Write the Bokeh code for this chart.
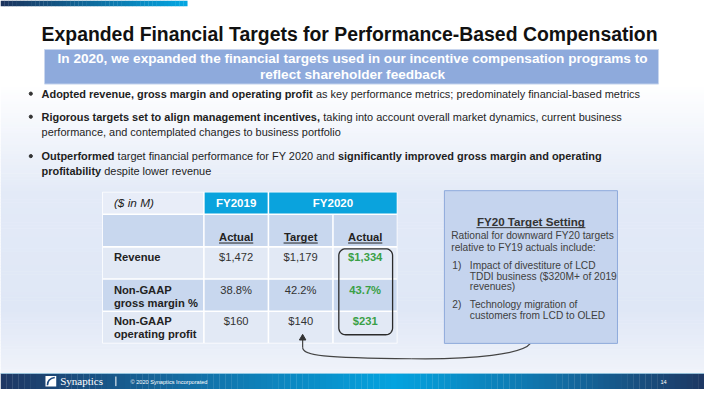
import numpy as np
from bokeh.plotting import figure
from bokeh.models import Range1d
from bokeh.core.properties import value
from bokeh.embed import file_html
from bokeh.resources import INLINE

# ---------------- content / data ----------------
title = "Expanded Financial Targets for Performance-Based Compensation"
banner_lines = ["In 2020, we expanded the financial targets used in our incentive compensation programs to",
                "reflect shareholder feedback"]

# bullet lines: list of segments (text, bold)
bullet_lines = [
    [("Adopted revenue, gross margin and operating profit", True),
     ("as key performance metrics; predominately financial-based metrics", False)],
    [("Rigorous targets set to align management incentives,", True),
     ("taking into account overall market dynamics, current business", False)],
    [("performance, and contemplated changes to business portfolio", False)],
    [("Outperformed", True), ("target financial performance for FY 2020 and", False),
     ("significantly improved gross margin and operating", True)],
    [("profitability", True), ("despite lower revenue", False)],
]
bullet_line_y = [97, 121, 137, 162, 178]
bullet_marks = [True, True, False, True, False]

unit_label = "($ in M)"
year_headers = ["FY2019", "FY2020"]
sub_headers = ["Actual", "Target", "Actual"]
row_labels = [["Revenue"], ["Non-GAAP", "gross margin %"], ["Non-GAAP", "operating profit"]]
fy2019_actual = ["$1,472", "38.8%", "$160"]
fy2020_target = ["$1,179", "42.2%", "$140"]
fy2020_actual = ["$1,334", "43.7%", "$231"]

box_title = "FY20 Target Setting"
box_intro = ["Rational for downward FY20 targets", "relative to FY19 actuals include:"]
box_items = [("1)", ["Impact of divestiture of LCD", "TDDI business ($320M+ of 2019", "revenues)"]),
             ("2)", ["Technology migration of", "customers from LCD to OLED"])]

footer_company = "Synaptics"
footer_copy = "\u00a9 2020 Synaptics Incorporated"
page_number = "14"

# ---------------- font metrics (Arial / Liberation Sans, per 1000 em) ----------------
_chars = " !\"#$%&'()*+,-./0123456789:;<=>?@ABCDEFGHIJKLMNOPQRSTUVWXYZ[\\]^_`abcdefghijklmnopqrstuvwxyz{|}~"
_reg = [278, 278, 355, 556, 556, 889, 667, 191, 333, 333, 389, 584, 278, 333, 278, 278] + [556] * 10 + \
       [278, 278, 584, 584, 584, 556, 1015,
        667, 667, 722, 722, 667, 611, 778, 722, 278, 500, 667, 556, 833, 722, 778, 667, 778, 722, 667, 611,
        722, 667, 944, 667, 667, 611, 278, 278, 278, 469, 556, 333,
        556, 556, 500, 556, 556, 278, 556, 556, 222, 222, 500, 222, 833, 556, 556, 556, 556, 333, 500, 278,
        556, 500, 722, 500, 500, 500, 334, 260, 334, 584]
_bold = [278, 333, 474, 556, 556, 889, 722, 238, 333, 333, 389, 584, 278, 333, 278, 278] + [556] * 10 + \
        [333, 333, 584, 584, 584, 611, 975,
         722, 722, 722, 722, 667, 611, 778, 722, 278, 556, 722, 611, 833, 722, 778, 667, 778, 722, 667, 611,
         722, 667, 944, 667, 667, 611, 333, 278, 333, 584, 556, 333,
         556, 611, 556, 611, 556, 333, 611, 611, 278, 278, 556, 278, 889, 611, 611, 611, 611, 389, 556, 333,
         611, 556, 778, 556, 556, 500, 389, 280, 389, 584]
W_REG = dict(zip(_chars, _reg))
W_BOLD = dict(zip(_chars, _bold))


def text_width(s, size, bold=False):
    tbl = W_BOLD if bold else W_REG
    return sum(tbl.get(ch, 556) for ch in s) * size / 1000.0


# ---------------- figure ----------------
p = figure(width=704, height=389, x_range=Range1d(0, 720), y_range=Range1d(405, 0),
           output_backend="svg", toolbar_location=None, min_border=0,
           x_axis_type=None, y_axis_type=None)
p.grid.visible = False
p.outline_line_color = None
p.background_fill_color = "white"
p.border_fill_color = "white"

SANS = "Liberation Sans"
PX = 704 / 720.0  # screen px per slide unit


def hex2rgb(h):
    h = h.lstrip("#")
    return np.array([int(h[i:i + 2], 16) for i in (0, 2, 4)], dtype=float)


def rgb2hex(c):
    return "#%02x%02x%02x" % tuple(int(round(v)) for v in c)


def lerp_colors(stops, t):
    for (p0, c0), (p1, c1) in zip(stops[:-1], stops[1:]):
        if p0 <= t <= p1:
            f = 0 if p1 == p0 else (t - p0) / (p1 - p0)
            return rgb2hex(hex2rgb(c0) * (1 - f) + hex2rgb(c1) * f)
    return stops[-1][1] if t > stops[-1][0] else stops[0][1]


def txt(x, y, s, size, bold=False, italic=False, color="#222222", font=SANS, align="left"):
    style = "normal"
    if bold and italic:
        style = "bold italic"
    elif bold:
        style = "bold"
    elif italic:
        style = "italic"
    p.text(x=[x], y=[y], text=[s], text_font=value(font), text_font_size=f"{size:.2f}px",
           text_font_style=style, text_color=color, text_align=align, text_baseline="middle")


# background vertical gradient
bg_stops = [(0, "#ffffff"), (85, "#ffffff"), (200, "#e3eaf7"), (320, "#dfe7f6"), (388, "#f0f3fa")]
ys = np.arange(0, 388, 3)
p.quad(left=0, right=720, top=ys, bottom=np.minimum(ys + 3.5, 388),
       fill_color=[lerp_colors(bg_stops, y) for y in ys], line_color=None)

# top-left gradient bar
xs = np.linspace(0, 187, 48)
dx = xs[1] - xs[0]
p.quad(left=xs, right=xs + dx + 0.3, top=0, bottom=6,
       fill_color=[lerp_colors([(0, "#1b335c"), (187, "#02a6e2")], x) for x in xs], line_color=None)

# title
txt(357, 35, title, 19.4, bold=True, color="#111111", align="center")

# banner
p.quad(left=45, right=673, top=51, bottom=87, fill_color="#8eaadc", line_color="#c9d6ee", line_width=1)
txt(360, 60.5, banner_lines[0], 13.6, bold=True, color="white", align="center")
txt(360, 77.5, banner_lines[1], 13.6, bold=True, color="white", align="center")

# bullets (segments chained by measured width)
BSIZE = 11.2  # slide units
for segs, y, mark in zip(bullet_lines, bullet_line_y, bullet_marks):
    if mark:
        p.scatter(x=[31], y=[y], size=3.2, marker="circle", color="#333333")
    x = 42.0
    for s, b in segs:
        txt(x, y, s, BSIZE * PX, bold=b, color="#1e1e1e")
        x += text_width(s + " ", BSIZE, bold=b)

# ---------------- table ----------------
col_edges = [(104, 208), (208, 274), (274, 340), (340, 406)]
row_edges = [(199, 222.5), (222.5, 256.5), (256.5, 290), (290, 323.5), (323.5, 357)]
LIGHT = "#e2e9f5"
DARK = "#c8d7ee"
p.quad(left=104, right=406, top=199, bottom=357, fill_color="white", line_color=None)
hdr_cells = [(col_edges[0][0], col_edges[0][1], "#e8edf8"),
             (col_edges[1][0], col_edges[1][1], "#0aa3dd"),
             (col_edges[2][0], col_edges[3][1], "#0aa3dd")]
for l, r, c in hdr_cells:
    p.quad(left=l + 0.8, right=r - 0.8, top=row_edges[0][0] + 0.8, bottom=row_edges[0][1] - 0.8,
           fill_color=c, line_color=None)
row_colors = [DARK, LIGHT, DARK, LIGHT]
for (t, b), c in zip(row_edges[1:], row_colors):
    for l, r in col_edges:
        p.quad(left=l + 0.8, right=r - 0.8, top=t + 0.8, bottom=b - 0.8, fill_color=c, line_color=None)

hy = (row_edges[0][0] + row_edges[0][1]) / 2
txt(116, hy, unit_label, 11.8, italic=True, color="#222222")
txt((col_edges[1][0] + col_edges[1][1]) / 2, hy, year_headers[0], 11.5, bold=True, color="white", align="center")
txt((col_edges[2][0] + col_edges[3][1]) / 2, hy, year_headers[1], 11.5, bold=True, color="white", align="center")

TSIZE = 11.2
col_centers = [(l + r) / 2 for l, r in col_edges[1:]]
for cx, s in zip(col_centers, sub_headers):
    txt(cx, 246.5, s, TSIZE, bold=True, color="#222222", align="center")
    w = text_width(s, TSIZE / PX, bold=True)
    p.segment(x0=[cx - w / 2], x1=[cx + w / 2], y0=[252.5], y1=[252.5], line_color="#222222", line_width=1)

row_text_y = [267, 301, 334]
for lab, y in zip(row_labels, row_text_y):
    for k, s in enumerate(lab):
        txt(116, y + k * 13.5, s, TSIZE, bold=True, color="#222222")
for vals, cx, green in zip([fy2019_actual, fy2020_target, fy2020_actual], col_centers, [False, False, True]):
    for v, y in zip(vals, row_text_y):
        if green:
            txt(cx, y, v, TSIZE, bold=True, color="#3aa046", align="center")
        else:
            txt(cx, y, v, TSIZE, color="#333333", align="center")


def rounded_rect(l, r, t, b, rad, n=10):
    pts = []
    corners = [(l + rad, t + rad, 180, 270), (r - rad, t + rad, 270, 360),
               (r - rad, b - rad, 0, 90), (l + rad, b - rad, 90, 180)]
    for cx, cy, a0, a1 in corners:
        for a in np.linspace(np.radians(a0), np.radians(a1), n):
            pts.append((cx + rad * np.cos(a), cy + rad * np.sin(a)))
    pts.append(pts[0])
    return [q[0] for q in pts], [q[1] for q in pts]


rx, ry = rounded_rect(346, 401, 258.5, 348, 7)
p.line(rx, ry, line_color="#2b2b2b", line_width=1.3)

# connector arrow from box to target
p.segment(x0=[309], x1=[309], y0=[353], y1=[361], line_color="#444444", line_width=1.2)
p.bezier(x0=[309], y0=[361], x1=[420], y1=[373], cx0=[309], cy0=[370], cx1=[330], cy1=[372],
         line_color="#444444", line_width=1.2)
p.bezier(x0=[420], y0=[373], x1=[542], y1=[357], cx0=[485], cy0=[374], cx1=[534], cy1=[368],
         line_color="#444444", line_width=1.2)
p.scatter(x=[309], y=[351.5], marker="triangle", size=6.5, color="#333333")

# ---------------- right box ----------------
p.quad(left=454, right=631, top=198, bottom=357, fill_color="#c5d4ee", line_color="#8eaadb", line_width=1)
txt(542.5, 230, box_title, 11.6, bold=True, color="#333333", align="center")
uw = text_width(box_title, 11.6 / PX, bold=True)
p.segment(x0=[542.5 - uw / 2], x1=[542.5 + uw / 2], y0=[236.5], y1=[236.5], line_color="#333333", line_width=1)
txt(461, 245, box_intro[0], 10.2, color="#404040")
txt(461, 257.5, box_intro[1], 10.2, color="#404040")
item_y = [[276, 287, 298], [316, 327.5]]
for (num, lines), yl in zip(box_items, item_y):
    txt(462, yl[0], num, 10.2, color="#404040")
    for s, y in zip(lines, yl):
        txt(480, y, s, 10.2, color="#404040")

# ---------------- footer ----------------
fx = np.linspace(0, 720, 120)
fdx = fx[1] - fx[0]
f_stops = [(0, "#1e3764"), (200, "#1371a8"), (400, "#04a3df"), (560, "#1270a7"), (720, "#1d3661")]
p.quad(left=fx, right=fx + fdx + 0.3, top=388, bottom=405,
       fill_color=[lerp_colors(f_stops, x) for x in fx], line_color=None)
p.segment(x0=[0], x1=[720], y0=[388.3], y1=[388.3], line_color="#a9d8ef", line_width=0.8)
p.quad(left=46, right=57, top=391, bottom=402, fill_color="white", line_color=None)
p.bezier(x0=[48], y0=[400.5], x1=[55.5], y1=[392.5], cx0=[48], cy0=[395], cx1=[52], cy1=[393],
         line_color="#1d4a80", line_width=1.6)
txt(61, 396.5, footer_company, 11, color="white", font="Liberation Serif")
p.segment(x0=[118], x1=[118], y0=[391.5], y1=[401.5], line_color="white", line_width=1)
txt(133, 397, footer_copy, 5.6, color="white")
txt(675, 397, page_number, 5.6, color="white")

open("out.html", "w").write(file_html(p, INLINE))
